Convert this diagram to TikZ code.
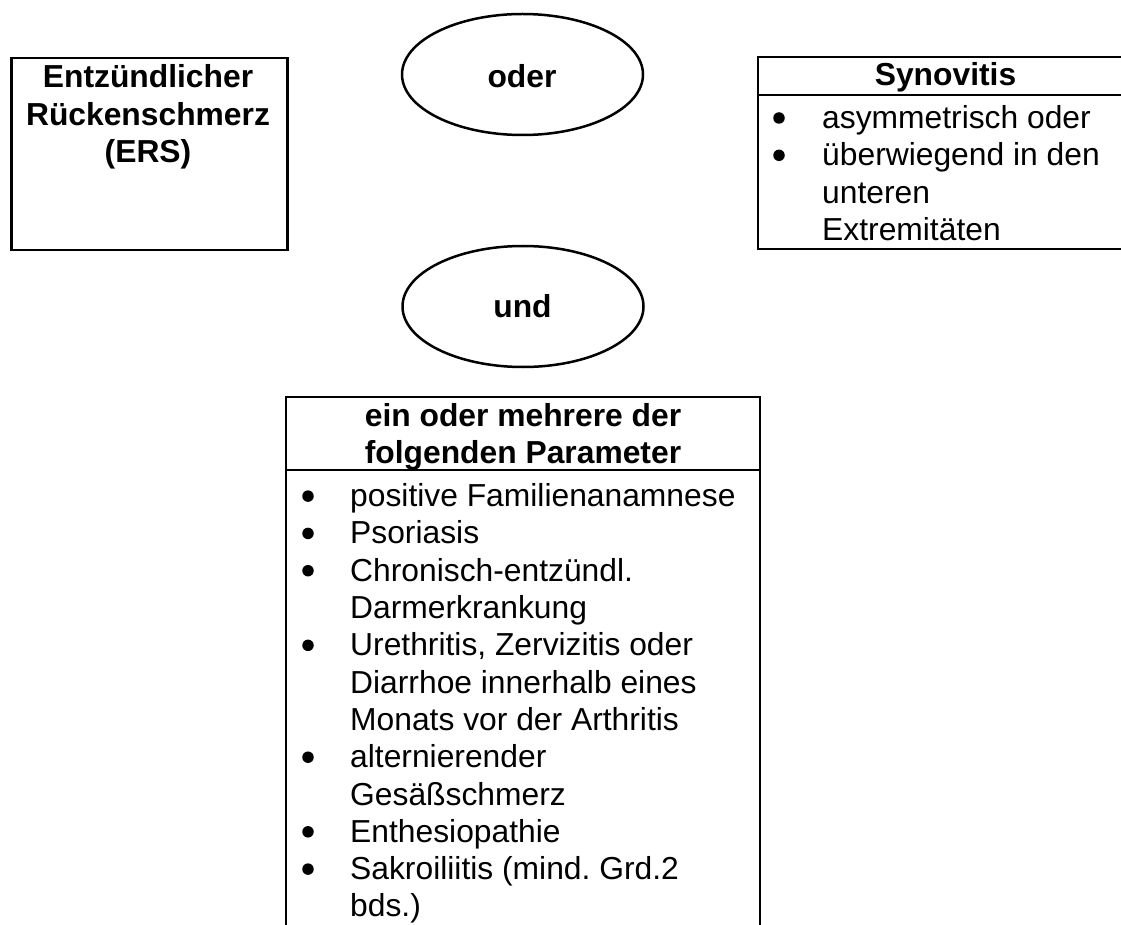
\documentclass[tikz,border=0pt]{standalone}
\usepackage{fontspec}
\setmainfont{Liberation Sans}
\usetikzlibrary{shapes.geometric}
\frenchspacing
\begin{document}
\begin{tikzpicture}[x=1pt,y=-1pt,
  frame/.style={draw=black,line width=2.5pt},
  oval/.style={draw=black,line width=2.5pt,ellipse,minimum width=241pt,minimum height=121pt,inner sep=0pt},
  btxt/.style={anchor=base,inner sep=0pt,font=\fontsize{31.8}{37.3}\selectfont\bfseries},
  ltxt/.style={anchor=base west,inner sep=0pt,font=\fontsize{31.8}{37.3}\selectfont},
  bul/.style={circle,fill=black,inner sep=0pt,minimum size=11.5pt,yshift=10.5pt}
]
\useasboundingbox (0,0) rectangle (1121,925);

% left box
\node[frame,rectangle,minimum width=276pt,minimum height=192pt,anchor=north west,inner sep=0pt] (ers) at (10,57) {};
\node[btxt] (ers1) at (148,88) {Entzündlicher};
\node[btxt] (ers2) at (148,125.3) {Rückenschmerz};
\node[btxt] (ers3) at (148,162.6) {(ERS)};

% ellipses
\node[oval] (oder) at (522.5,74.5) {};
\node[btxt] (oderlbl) at (522,88) {oder};
\node[oval] (und) at (523,306.5) {};
\node[btxt] (undlbl) at (522.5,317) {und};

% synovitis box (open to the right, beyond page)
\draw[frame] (1140,57) -- (758,57) -- (758,249) -- (1140,249);
\draw[frame] (758,95) -- (1140,95);
\node[btxt] (syn) at (945.5,86) {Synovitis};
\node[bul] (sb1) at (779,128.5) {};
\node[ltxt] (s1) at (822,128.5) {asymmetrisch oder};
\node[bul] (sb2) at (779,165.8) {};
\node[ltxt] (s2) at (822,165.8) {überwiegend in den};
\node[ltxt] (s3) at (822,203.1) {unteren};
\node[ltxt] (s4) at (822,240.4) {Extremitäten};

% bottom box (open at the bottom)
\draw[frame] (286,935) -- (286,397) -- (760,397) -- (760,935);
\draw[frame] (286,470) -- (760,470);
\node[btxt] (h1) at (523,426) {ein oder mehrere der};
\node[btxt] (h2) at (523,463) {folgenden Parameter};

\node[bul] (b0) at (308,506.6) {};
\node[ltxt] (t0) at (350,506.6) {positive Familienanamnese};
\node[bul] (b1) at (308,543.9) {};
\node[ltxt] (t1) at (350,543.9) {Psoriasis};
\node[bul] (b2) at (308,581.2) {};
\node[ltxt] (t2) at (350,581.2) {Chronisch-entzündl.};
\node[ltxt] (t3) at (350,618.5) {Darmerkrankung};
\node[bul] (b4) at (308,655.8) {};
\node[ltxt] (t4) at (350,655.8) {Urethritis, Zervizitis oder};
\node[ltxt] (t5) at (350,693.1) {Diarrhoe innerhalb eines};
\node[ltxt] (t6) at (350,730.4) {Monats vor der Arthritis};
\node[bul] (b7) at (308,767.7) {};
\node[ltxt] (t7) at (350,767.7) {alternierender};
\node[ltxt] (t8) at (350,805.0) {Gesäßschmerz};
\node[bul] (b9) at (308,842.3) {};
\node[ltxt] (t9) at (350,842.3) {Enthesiopathie};
\node[bul] (b10) at (308,879.6) {};
\node[ltxt] (t10) at (350,879.6) {Sakroiliitis (mind. Grd.2};
\node[ltxt] (t11) at (350,916.9) {bds.)};
\end{tikzpicture}
\end{document}
